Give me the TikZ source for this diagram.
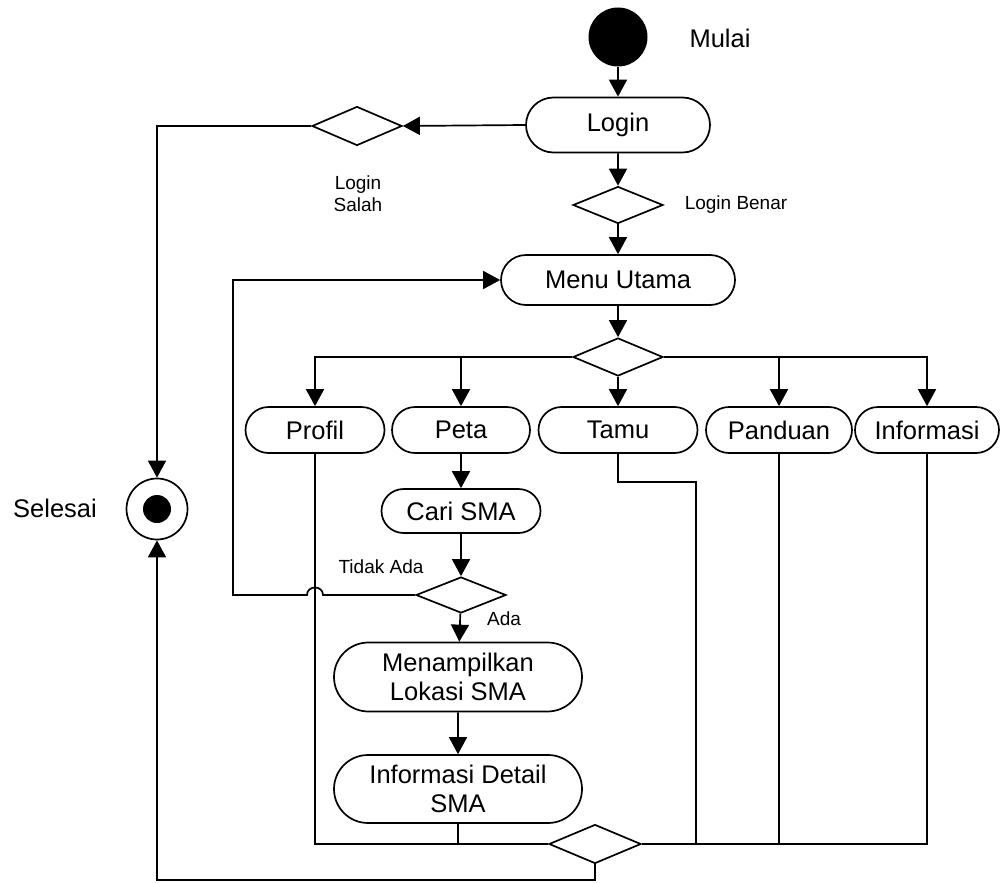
\documentclass[tikz,border=0pt]{standalone}
\usepackage{fontspec}
\setmainfont{Liberation Sans}
\usetikzlibrary{shapes.misc,shapes.geometric,arrows.meta}
\begin{document}
\begin{tikzpicture}[x=1pt,y=-1pt,
  every path/.style={line width=1.7pt},
  act/.style={draw, rounded rectangle, inner sep=0pt, align=center,
    font=\fontsize{25.5}{29}\selectfont},
  dec/.style={draw, diamond, inner sep=0pt, minimum width=90pt, minimum height=39pt},
  lbl/.style={font=\fontsize{19}{22}\selectfont, align=center, inner sep=0pt},
  big/.style={font=\fontsize{25.5}{29}\selectfont, inner sep=0pt},
  arr/.style={-{Triangle[length=17pt,width=18pt]}},
  conn/.style={draw}
]
\useasboundingbox (0,0) rectangle (1001,883);

% initial and final
\node[circle, fill=black, minimum size=59pt, inner sep=0pt] (start) at (618,37) {};
\node[big] (mulai) at (720,38) {Mulai};
\node[circle, draw, minimum size=61pt, inner sep=0pt] (sel) at (157,509) {};
\node[circle, fill=black, minimum size=28pt, inner sep=0pt] (seldot) at (157,509) {};
\node[big] (selesai) at (55,508) {Selesai};

% activities
\node[act, minimum width=184pt, minimum height=55pt] (login) at (618,125) {Login};
\node[dec] (dL) at (357,126) {};
\node[lbl] (lsalah) at (358,194) {Login\\Salah};
\node[dec, minimum height=37pt] (d2) at (618,205) {};
\node[lbl] (lbenar) at (736,205) {Login Benar};
\node[act, minimum width=234pt, minimum height=50pt] (menu) at (618,280) {Menu Utama};
\node[dec, minimum height=38pt] (d3) at (618,357) {};

\node[act, minimum width=139pt, minimum height=46pt] (profil) at (315,430) {Profil};
\node[act, minimum width=138pt, minimum height=46pt] (peta) at (461,430) {Peta};
\node[act, minimum width=159pt, minimum height=46pt] (tamu) at (618,430) {Tamu};
\node[act, minimum width=146pt, minimum height=46pt] (panduan) at (779,430) {Panduan};
\node[act, minimum width=144pt, minimum height=46pt] (info) at (927,430) {Informasi};

\node[act, minimum width=159pt, minimum height=44pt] (cari) at (461,511) {Cari SMA};
\node[dec, minimum height=36pt] (d4) at (461,595) {};
\node[lbl] (tidak) at (381,567) {Tidak Ada};
\node[lbl] (ada) at (504,619) {Ada};
\node[act, minimum width=248pt, minimum height=69pt] (lokasi) at (458,677) {Menampilkan\\Lokasi SMA};
\node[act, minimum width=248pt, minimum height=68pt] (detail) at (458,789) {Informasi Detail\\SMA};

\node[dec, minimum width=92pt, minimum height=39pt] (dm) at (595,844) {};

\coordinate (tamuA) at (618,482);
\coordinate (tamuB) at (696,482);
\coordinate (bumpR) at (323,595);
\coordinate (bumpL) at (307,595);
\coordinate (leftTurn) at (233,595);
\coordinate (bottomR) at (595,880);

% connectors
\draw[arr] (start) -- (login);
\draw[arr] (login.west) -- (dL.east);
\draw[arr] (dL.west) -| (sel.north);
\draw[arr] (login) -- (d2);
\draw[arr] (d2) -- (menu);
\draw[arr] (menu) -- (d3);
\draw[arr] (d3.west) -| (profil.north);
\draw[arr] (d3.west) -| (peta.north);
\draw[arr] (d3.south) -- (tamu.north);
\draw[arr] (d3.east) -| (panduan.north);
\draw[arr] (d3.east) -| (info.north);
\draw[arr] (peta) -- (cari);
\draw[arr] (cari) -- (d4);
\draw[arr] (d4) -- (lokasi);
\draw[arr] (lokasi) -- (detail);
\draw[arr] (d4.west) -- (bumpR) .. controls +(0,-10) and +(0,-10) .. (bumpL) -- (leftTurn) |- (menu.west);

\draw (profil.south) |- (dm.west);
\draw (detail.south) -- (detail.south |- dm.west);
\draw (tamu.south) -- (tamuA) -- (tamuB) -- (tamuB |- dm.east);
\draw (panduan.south) -- (panduan.south |- dm.east);
\draw (info.south) |- (dm.east);
\draw[arr] (dm.south) -- (bottomR) -| (sel.south);
\end{tikzpicture}
\end{document}
